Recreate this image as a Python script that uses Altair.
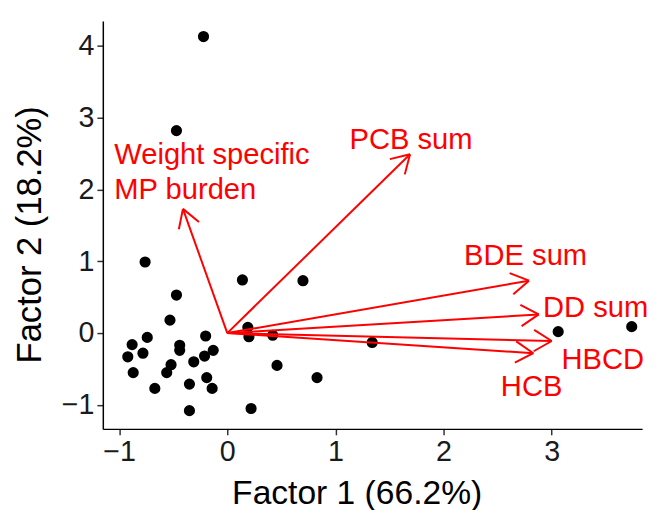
import altair as alt
import numpy as np
import pandas as pd

# ---- data ----
pc1 = [-0.22, -0.47, -0.76, 0.14, 0.70, -0.47, -0.53, 0.19, 0.20, 0.42,
       -0.74, -0.20, -0.88, -0.44, -0.44, -0.13, -0.78, -0.92, -0.21, -0.31,
       -0.52, 0.46, -0.87, -0.56, -0.19, 0.83, -0.67, -0.35, -0.14, -0.35,
       0.22, 1.34, 3.06, 3.74]
pc2 = [4.13, 2.82, 0.99, 0.74, 0.73, 0.53, 0.18, 0.08, -0.05, -0.03,
       -0.06, -0.04, -0.16, -0.17, -0.24, -0.24, -0.28, -0.33, -0.32, -0.40,
       -0.44, -0.45, -0.55, -0.55, -0.62, -0.62, -0.77, -0.71, -0.77, -1.08,
       -1.05, -0.13, 0.02, 0.09]

var_names = ["Weight specific\nMP burden", "PCB sum", "BDE sum", "DD sum", "HBCD", "HCB"]
load_x = [-0.41, 1.69, 2.79, 2.88, 3.00, 2.83]
load_y = [1.73, 2.49, 0.73, 0.26, -0.11, -0.28]
label_x = [-1.045, 1.13, 2.19, 2.92, 3.09, 2.53]
label_y = [2.35, 2.57, 0.95, 0.22, -0.50, -0.87]

x_ticks = [-1, 0, 1, 2, 3]
y_ticks = [-1, 0, 1, 2, 3, 4]

# ---- layout ----
W, H = 546, 413
x_dom = [-1.151, 3.836]
y_dom = [-1.334, 4.347]
sx = W / (x_dom[1] - x_dom[0])
sy = H / (y_dom[1] - y_dom[0])

pts = pd.DataFrame({"f1": pc1, "f2": pc2})
arr = pd.DataFrame({"x0": 0.0, "y0": 0.0, "x": load_x, "y": load_y})
labs = pd.DataFrame({"x": label_x, "y": label_y, "name": var_names})

# arrowhead arms computed from the loadings
head_len, head_ang = 21.0, np.deg2rad(31)
rows = []
for lx, ly in zip(load_x, load_y):
    px, py = lx * sx, ly * sy
    n = np.hypot(px, py)
    bx, by = -px / n, -py / n
    for s in (1, -1):
        c, si = np.cos(s * head_ang), np.sin(s * head_ang)
        ax_ = bx * c - by * si
        ay_ = bx * si + by * c
        rows.append({"x": lx, "y": ly,
                     "x2": lx + ax_ * head_len / sx,
                     "y2": ly + ay_ * head_len / sy})
heads = pd.DataFrame(rows)

xs = alt.Scale(domain=x_dom, nice=False, zero=False)
ys = alt.Scale(domain=y_dom, nice=False, zero=False)

x_axis = alt.Axis(values=x_ticks, format="d", title="Factor 1 (66.2%)", grid=False,
                  titleX=257, titleY=76, titleBaseline="alphabetic")
y_axis = alt.Axis(values=y_ticks, format="d", title="Factor 2 (18.2%)", grid=False,
                  titleX=-56, titleY=216, titleFontSize=35)

points = alt.Chart(pts).mark_circle(size=128, color="black", opacity=1).encode(
    x=alt.X("f1:Q", scale=xs, axis=x_axis),
    y=alt.Y("f2:Q", scale=ys, axis=y_axis),
)

shafts = alt.Chart(arr).mark_rule(color="#FF0000", strokeWidth=2).encode(
    x=alt.X("x0:Q", scale=xs), y=alt.Y("y0:Q", scale=ys),
    x2="x:Q", y2="y:Q",
)

heads_l = alt.Chart(heads).mark_rule(color="#FF0000", strokeWidth=2).encode(
    x=alt.X("x:Q", scale=xs), y=alt.Y("y:Q", scale=ys),
    x2="x2:Q", y2="y2:Q",
)

labels = alt.Chart(labs).mark_text(
    color="#FF0000", fontSize=29.5, font="Liberation Sans", align="left",
    baseline="alphabetic", lineBreak="\n", lineHeight=35,
).encode(
    x=alt.X("x:Q", scale=xs), y=alt.Y("y:Q", scale=ys), text="name:N",
)

chart = alt.layer(points, shafts, heads_l, labels).properties(
    width=W, height=H,
    autosize=alt.AutoSizeParams(type="none"),
    padding={"left": 96, "top": 10, "right": 8, "bottom": 79},
).configure_view(stroke=None).configure_axis(
    domainColor="black", domainWidth=1.5,
    tickColor="#333333", tickWidth=1.5, tickSize=6,
    labelFont="Liberation Sans", labelFontSize=29, labelColor="#1a1a1a",
    labelPadding=3,
    titleFont="Liberation Sans", titleFontSize=34, titleColor="black",
    titleFontWeight="normal",
)

chart.save("out.html", embed_options={"renderer": "svg", "actions": False})
